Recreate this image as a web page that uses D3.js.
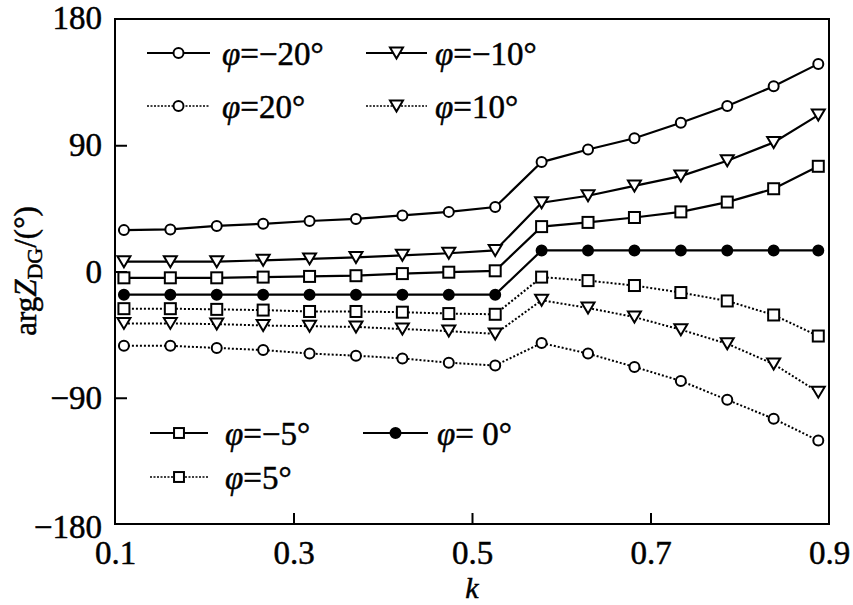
<!DOCTYPE html>
<html><head><meta charset="utf-8">
<script src="https://cdn.jsdelivr.net/npm/d3@7"></script>
<style>body{margin:0;background:#fff}svg{display:block}</style>
</head><body>
<script>
const kValues = [0.11,0.162,0.214,0.266,0.318,0.37,0.422,0.474,0.526,0.578,0.63,0.682,0.734,0.786,0.838,0.888];
const phiM20 = [29.5,30,32.5,34,36,37.5,40,42.5,46,78,87,95,106,118,132,148];
const phiM10 = [7,7,7,8,9,10,11.5,13,15,49,54,61,68,79,92,111.5];
const phiM5  = [-4.5,-4.5,-4.5,-4,-3.5,-3,-1.5,-0.5,0.5,32,35,38.5,42.5,49.5,59,75];
const phi0   = [-16.5,-16.5,-16.5,-16.5,-16.5,-16.5,-16.5,-16.5,-16.5,15,15,15,15,15,15,15];
const phiP5  = [-26.5,-26.5,-27,-27.5,-28.5,-28.5,-29,-30,-30.5,-4,-6.5,-10,-15,-21,-31,-46];
const phiP10 = [-37,-37,-37.5,-38.5,-39,-39.5,-41,-42.5,-44.5,-20.5,-26,-32.5,-41.5,-51.5,-66,-86];
const phiP20 = [-53,-53,-54.5,-56,-58.5,-60,-62,-65,-67,-51,-58.5,-68,-78,-91.5,-105,-120.5];
const xTicks = [0.1,0.3,0.5,0.7,0.9];
const yTicks = [-180,-90,0,90,180];

const series = [
  {name:"−20", values:phiM20, marker:"circle", dotted:false},
  {name:"−10", values:phiM10, marker:"triangle", dotted:false},
  {name:"20", values:phiP20, marker:"circle", dotted:true},
  {name:"10", values:phiP10, marker:"triangle", dotted:true},
  {name:"−5", values:phiM5, marker:"square", dotted:false},
  {name:" 0", values:phi0, marker:"filled", dotted:false},
  {name:"5", values:phiP5, marker:"square", dotted:true}
];

const W=853,H=605;
const L=115,R=829,T=19,B=524;
const FONT='"Liberation Serif","Times New Roman",serif';
const svg=d3.select("body").append("svg").attr("width",W).attr("height",H);
const x=d3.scaleLinear().domain([0.1,0.9]).range([L,R]);
const y=d3.scaleLinear().domain([-180,180]).range([B,T]);

function heavy(sel){ return sel.attr("stroke","#000").attr("stroke-width",0.5); }

// axes (ticks inward)
const gx=svg.append("g").attr("transform",`translate(0,${B})`)
  .call(d3.axisBottom(x).tickValues(xTicks).tickSize(-11).tickPadding(17).tickFormat(d3.format(".1f")));
const gy=svg.append("g").attr("transform",`translate(${L},0)`)
  .call(d3.axisLeft(y).tickValues(yTicks).tickSize(-12).tickPadding(13).tickFormat(d=>d<0?"−"+Math.abs(d):d));
[gx,gy].forEach(g=>{
  g.select(".domain").remove();
  g.selectAll("line").attr("stroke","#000").attr("stroke-width",2);
  heavy(g.selectAll("text").attr("font-family",FONT).attr("font-size",33).attr("fill","#000"));
});
gx.selectAll(".tick").filter(d=>d===0.1||d===0.9).select("line").remove();
gy.selectAll(".tick").filter(d=>d===180||d===-180).select("line").remove();
gy.selectAll(".tick").filter(d=>d===180).select("text").attr("dy","0.28em");
gy.selectAll(".tick").filter(d=>d===-180).select("text").attr("dy","0.42em");
gx.selectAll("text").attr("dy","0.71em");

svg.append("rect").attr("x",L).attr("y",T).attr("width",R-L).attr("height",B-T)
  .attr("fill","none").attr("stroke","#000").attr("stroke-width",2);

function drawMarker(g,type,cx,cy,s){
  s=s||1;
  if(type==="circle"||type==="filled"){
    g.append("circle").attr("cx",cx).attr("cy",cy).attr("r",5*s)
     .attr("fill",type==="filled"?"#000":"#fff").attr("stroke","#000").attr("stroke-width",2);
  } else if(type==="square"){
    const a=11*s;
    g.append("rect").attr("x",cx-a/2).attr("y",cy-a/2).attr("width",a).attr("height",a)
     .attr("fill","#fff").attr("stroke","#000").attr("stroke-width",2);
  } else {
    const w=13*s,h=11*s;
    g.append("path").attr("d",`M${cx-w/2},${cy-h/2}L${cx+w/2},${cy-h/2}L${cx},${cy+h/2}Z`)
     .attr("fill","#fff").attr("stroke","#000").attr("stroke-width",2);
  }
}

const line=d3.line().x((d,i)=>x(kValues[i])).y(d=>y(d));
series.forEach(s=>{
  svg.append("path").datum(s.values).attr("d",line).attr("fill","none")
    .attr("stroke","#000").attr("stroke-width",s.dotted?2:2.2)
    .attr("stroke-dasharray",s.dotted?"2,2":null);
});
series.forEach(s=>{
  const g=svg.append("g");
  s.values.forEach((v,i)=>drawMarker(g,s.marker,x(kValues[i]),y(v)));
});

// legends
const legendPos=[
  {x1:147,x2:210,y:53,tx:222},
  {x1:366,x2:427,y:53,tx:435},
  {x1:147,x2:210,y:106,tx:222},
  {x1:366,x2:427,y:106,tx:435},
  {x1:150,x2:208,y:433,tx:225},
  {x1:363,x2:428,y:433,tx:437},
  {x1:150,x2:208,y:477,tx:225}
];
series.forEach((s,i)=>{
  const p=legendPos[i];
  const g=svg.append("g");
  g.append("line").attr("x1",p.x1).attr("x2",p.x2).attr("y1",p.y).attr("y2",p.y)
    .attr("stroke","#000").attr("stroke-width",s.dotted?1.6:2).attr("stroke-dasharray",s.dotted?"2,1.5":null);
  drawMarker(g,s.marker,(p.x1+p.x2)/2,p.y,s.marker==="square"?0.9:1);
  const t=heavy(g.append("text").attr("x",p.tx).attr("y",p.y+12).attr("font-family",FONT).attr("font-size",33).attr("fill","#000"));
  t.append("tspan").attr("font-style","italic").text("φ");
  t.append("tspan").text("="+s.name);
  t.append("tspan").text("°");
});

// axis titles
heavy(svg.append("text").attr("x",(L+R)/2-0).attr("y",598).attr("text-anchor","middle")
  .attr("font-family",FONT).attr("font-size",30).attr("font-style","italic").text("k"));
const yt=heavy(svg.append("text").attr("transform","translate(36,271) rotate(-90)").attr("text-anchor","middle")
  .attr("font-family",FONT).attr("font-size",31).attr("fill","#000"));
yt.append("tspan").text("arg");
yt.append("tspan").attr("font-style","italic").text("Z");
yt.append("tspan").attr("font-size",22).attr("dy",6).text("DG");
yt.append("tspan").attr("dy",-6).text("/(°)");
</script>
</body></html>
